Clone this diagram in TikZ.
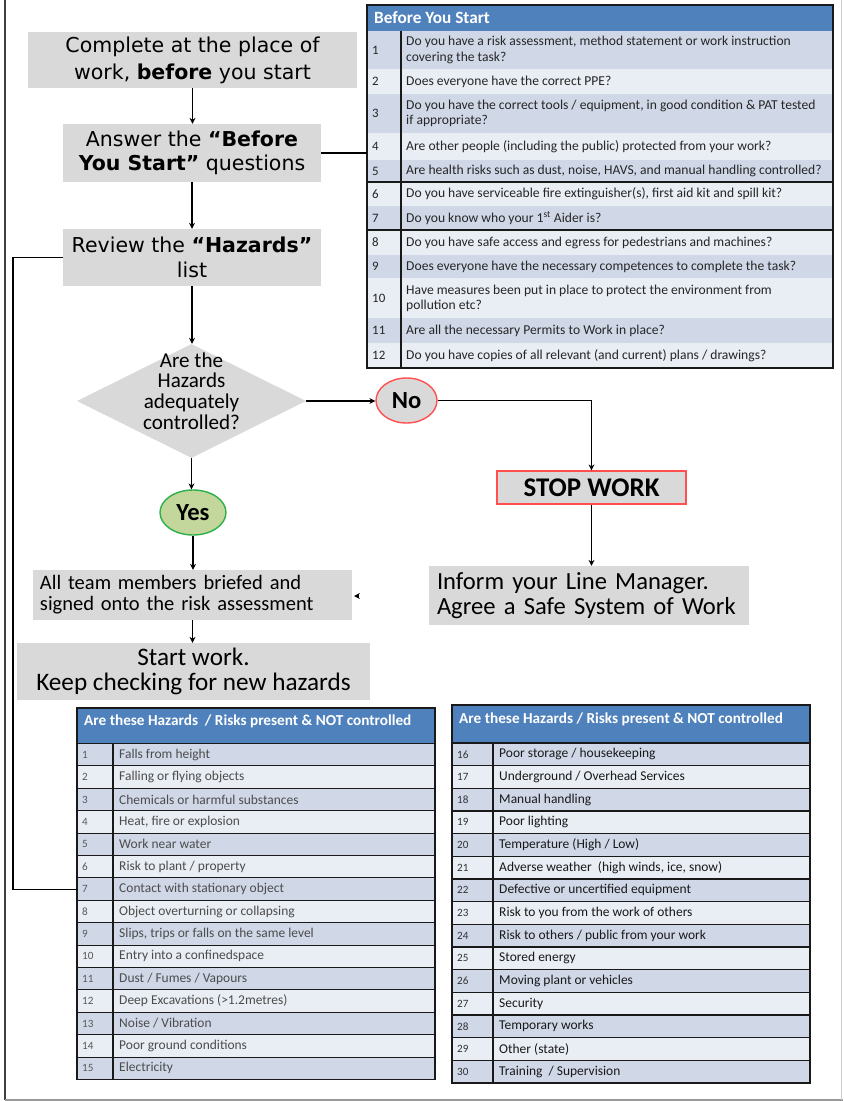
\documentclass[tikz,border=0pt]{standalone}
\usepackage{fontspec}
\setmainfont{Carlito}
\newfontfamily\verdana{DejaVu Sans}
\usetikzlibrary{shapes.geometric,arrows.meta}

\begin{document}
\begin{tikzpicture}[x=0.03cm, y=-0.03cm,
    >={Stealth[length=5pt,width=5pt]},
    flow/.style={line width=1pt, black},
    tabline/.style={line width=1pt, black!90},
    greybox/.style={fill=boxgrey, inner sep=0pt, align=center},
    qnum/.style={anchor=west, inner xsep=0.15cm, inner ysep=0pt, text width=0.72cm, align=left, text=black!85, font=\fontsize{11}{13}\selectfont},
    qtext/.style={anchor=west, inner sep=0pt, align=left, text=black!85, font=\fontsize{11.6}{13}\selectfont},
    hnum/.style={anchor=west, inner xsep=0.15cm, inner ysep=0pt, text width=0.75cm, align=left, font=\fontsize{9.5}{11}\selectfont},
    htext/.style={anchor=west, inner sep=0pt, align=left, font=\fontsize{11.5}{13}\selectfont}]

    % Colours of the sheet
    \definecolor{boxgrey}{HTML}{D9D9D9}
    \definecolor{headblue}{HTML}{4F81BD}
    \definecolor{rowdark}{HTML}{D0D8E8}
    \definecolor{rowlight}{HTML}{E9EDF4}
    \definecolor{nored}{HTML}{FF4F4F}
    \definecolor{yesgreen}{HTML}{2DB04A}
    \definecolor{yesfill}{HTML}{C3D69B}

    % Page and its edges
    \useasboundingbox (0,0) rectangle (843,1101);
    \fill[white] (0,0) rectangle (843,1101);
    \draw[black!75, line width=1.6pt] (5,0) -- (5,1100);
    \draw[black!40, line width=1.2pt] (5,1100) -- (843,1100);
    \draw[black!20, line width=0.8pt] (841,0) -- (841,1100);

    % Flow boxes on the left
    \node[greybox, minimum width=9.87cm, minimum height=1.68cm, font=\verdana\fontsize{17.5}{23}\selectfont] (place) at (192.5,60) {Complete at the place of\\work, \textbf{before} you start};
    \node[greybox, minimum width=7.74cm, minimum height=1.74cm, font=\verdana\fontsize{17.5}{21}\selectfont] (answer) at (192,153) {Answer the \textbf{“Before}\\\textbf{You Start”} questions};
    \node[greybox, minimum width=7.74cm, minimum height=1.71cm, font=\verdana\fontsize{17.5}{21}\selectfont] (review) at (192,257.5) {Review the \textbf{“Hazards”}\\list};

    % Decision
    \node[diamond, fill=boxgrey, minimum width=6.87cm, minimum height=3.42cm, inner sep=0pt] (check) at (191.5,401) {};
    \node[align=center, inner sep=0pt, font=\fontsize{18}{17.5}\selectfont] (checktext) at (191.5,391) {Are the\\Hazards\\adequately\\controlled?};

    % Answers
    \node[ellipse, draw=nored, line width=1.2pt, fill=boxgrey, minimum width=1.83cm, minimum height=1.35cm, inner sep=0pt, font=\bfseries\fontsize{21}{21}\selectfont] (no) at (406.5,400.5) {No};
    \node[ellipse, draw=yesgreen, line width=1.2pt, fill=yesfill, minimum width=1.98cm, minimum height=1.35cm, inner sep=0pt, font=\bfseries\fontsize{21}{21}\selectfont] (yes) at (193,512.5) {Yes};

    % Stop branch
    \node[draw=nored, line width=1.2pt, fill=boxgrey, minimum width=5.67cm, minimum height=0.99cm, inner sep=0pt, font=\bfseries\fontsize{23}{23}\selectfont] (stop) at (591.5,487.5) {STOP WORK};
    \node[greybox, minimum width=9.6cm, minimum height=1.77cm, text width=9.12cm, align=left, font=\fontsize{21}{21.5}\selectfont] (inform) at (589,595.5) {Inform your Line Manager.\\Agree a Safe System of Work};

    % Go branch
    \node[greybox, minimum width=9.57cm, minimum height=1.5cm, text width=9.15cm, align=left, font=\fontsize{17.5}{18}\selectfont] (team) at (192.5,595) {All team members briefed and\\signed onto the risk assessment};
    \node[greybox, minimum width=10.59cm, minimum height=1.71cm, font=\fontsize{21.5}{21.5}\selectfont] (startwork) at (193.5,671.5) {Start work.\\Keep checking for new hazards};

    % Before You Start table
    \fill[headblue] (367,5) rectangle (833,31);
    \node[anchor=west, inner sep=0pt, text=white, font=\bfseries\fontsize{14.7}{14.7}\selectfont] (qhead) at (374,18) {Before You Start};
    \foreach \n/\ya/\yb/\txt in {
        1/31/69/{Do you have a risk assessment, method statement or work instruction\\covering the task?},
        2/69/94/{Does everyone have the correct PPE?},
        3/94/133/{Do you have the correct tools / equipment, in good condition \& PAT tested\\if appropriate?},
        4/133/160/{Are other people (including the public) protected from your work?},
        5/160/182/{Are health risks such as dust, noise, HAVS, and manual handling controlled?},
        6/182/206/{Do you have serviceable fire extinguisher(s), first aid kit and spill kit?},
        7/206/230/{Do you know who your 1\textsuperscript{st} Aider is?},
        8/230/255/{Do you have safe access and egress for pedestrians and machines?},
        9/255/278/{Does everyone have the necessary competences to complete the task?},
        10/278/318/{Have measures been put in place to protect the environment from\\pollution etc?},
        11/318/343/{Are all the necessary Permits to Work in place?},
        12/343/368/{Do you have copies of all relevant (and current) plans / drawings?}}
    {
        \ifodd\n\relax \def\tone{rowdark}\else \def\tone{rowlight}\fi
        \path[fill=\tone] (367,\ya) rectangle (833,\yb);
        \node[qnum] (qn\n) at (367,{(\ya+\yb)/2}) {\n};
        \node[qtext] (q\n) at (406,{(\ya+\yb)/2}) {\txt};
    }
    \draw[tabline] (367,5) rectangle (833,368);
    \draw[tabline] (401,31) -- (401,368);
    \draw[tabline] (367,182) -- (833,182);
    \draw[tabline] (367,230) -- (833,230);

    % Hazards table, first half
    \fill[headblue] (77,708) rectangle (435,743.5);
    \node[anchor=west, inner sep=0pt, text=white, font=\bfseries\fontsize{13}{13}\selectfont] (hheadA) at (84,721) {Are these Hazards~ / Risks present \& NOT controlled};
    \foreach \n/\txt in {1/{Falls from height}, 2/{Falling or flying objects}, 3/{Chemicals or harmful substances},
        4/{Heat, fire or explosion}, 5/{Work near water}, 6/{Risk to plant / property},
        7/{Contact with stationary object}, 8/{Object overturning or collapsing},
        9/{Slips, trips or falls on the same level}, 10/{Entry into a confinedspace},
        11/{Dust / Fumes / Vapours}, 12/{Deep Excavations (>1.2metres)}, 13/{Noise / Vibration},
        14/{Poor ground conditions}, 15/{Electricity}}
    {
        \pgfmathsetmacro\ya{743.5+(\n-1)*22.4}
        \pgfmathsetmacro\yb{\ya+22.4}
        \ifodd\n\relax \def\tone{rowdark}\else \def\tone{rowlight}\fi
        \draw[tabline, fill=\tone] (77,\ya) rectangle (435,\yb);
        \node[hnum, text=black!65] (hn\n) at (77,{\ya+11.2}) {\n};
        \node[htext, text=black!70] (h\n) at (119,{\ya+11.2}) {\txt};
    }
    \draw[tabline] (113,743.5) -- (113,1079.5);
    \draw[tabline] (77,708) rectangle (435,1079.5);

    % Hazards table, second half
    \fill[headblue] (452,705) rectangle (810,743);
    \node[anchor=west, inner sep=0pt, text=white, font=\bfseries\fontsize{13}{13}\selectfont] (hheadB) at (459,719) {Are these Hazards / Risks present \& NOT controlled};
    \foreach \n/\txt in {16/{Poor storage / housekeeping}, 17/{Underground / Overhead Services},
        18/{Manual handling}, 19/{Poor lighting}, 20/{Temperature (High / Low)},
        21/{Adverse weather~ (high winds, ice, snow)}, 22/{Defective or uncertified equipment},
        23/{Risk to you from the work of others}, 24/{Risk to others / public from your work},
        25/{Stored energy}, 26/{Moving plant or vehicles}, 27/{Security}, 28/{Temporary works},
        29/{Other (state)}, 30/{Training~ / Supervision}}
    {
        \pgfmathsetmacro\ya{743+(\n-16)*22.67}
        \pgfmathsetmacro\yb{\ya+22.67}
        \ifodd\n\relax \def\tone{rowlight}\else \def\tone{rowdark}\fi
        \draw[tabline, fill=\tone] (452,\ya) rectangle (810,\yb);
        \node[hnum, text=black!80] (hn\n) at (452,{\ya+11.3}) {\n};
        \node[htext, text=black!90] (h\n) at (499,{\ya+11.3}) {\txt};
    }
    \draw[tabline] (493,743) -- (493,1083);
    \draw[tabline] (452,705) rectangle (810,1083);

    % Arrows down the flow
    \draw[flow, ->] (place.south) -- (place.south |- answer.north);
    \draw[flow, ->] (answer.south) -- (review.north);
    \draw[flow, ->] (review.south) -- (review.south |- check.north);
    \draw[flow, ->] (check.south) -- (check.south |- yes.north);
    \draw[flow, ->] (yes.south) -- (yes.south |- team.north);
    \draw[flow, ->] (team.south) -- (team.south |- startwork.north);

    % Arrows of the stop branch
    \draw[flow, ->] (check.east) -- (check.east -| no.west);
    \draw[flow, ->] (no.east) -| (stop.north);
    \draw[flow, ->] (stop.south) -- (stop.south |- inform.north);

    % Links to the tables
    \draw[flow] (answer.east) -- (answer.east -| qn4.west);
    \coordinate (back) at (13,257.5);
    \draw[flow] (review.west) -- (review.west -| back) |- (hn7.west);

    % Loose arrow tip beside the team box
    \coordinate (loose) at (358,596);
    \coordinate (looseend) at (354,596);
    \draw[flow, ->] (loose) -- (looseend);

\end{tikzpicture}
\end{document}
